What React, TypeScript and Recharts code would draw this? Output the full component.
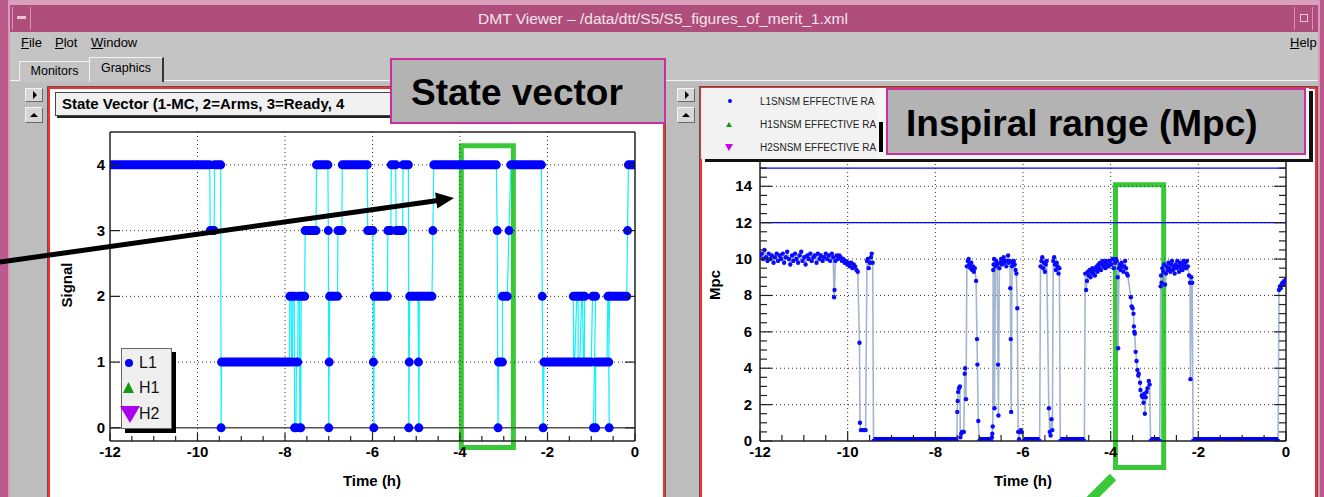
import React from 'react'
import { ComposedChart, Line, XAxis, YAxis, ReferenceLine, ReferenceArea } from 'recharts'

const FONT = '"Liberation Sans", Arial, Helvetica, sans-serif'

// L1 state vector, runs of equal state: [start (h), end (h), state]
const stateRuns: [number, number, number][] = [
  [-12.0, -9.72, 4], [-9.71, -9.62, 3], [-9.61, -9.47, 4], [-9.46, -9.46, 0],
  [-9.45, -7.9, 1], [-7.89, -7.86, 2], [-7.85, -7.83, 1], [-7.82, -7.79, 2],
  [-7.78, -7.75, 0], [-7.74, -7.71, 1], [-7.7, -7.67, 2], [-7.66, -7.64, 0],
  [-7.63, -7.55, 2], [-7.54, -7.29, 3], [-7.28, -7.02, 4], [-7.01, -7.01, 3],
  [-7.0, -7.0, 0], [-6.99, -6.99, 1], [-6.98, -6.8, 2], [-6.79, -6.7, 3],
  [-6.69, -6.12, 4], [-6.11, -5.99, 3], [-5.98, -5.98, 1], [-5.97, -5.97, 0],
  [-5.96, -5.66, 2], [-5.65, -5.58, 3], [-5.57, -5.47, 4], [-5.46, -5.31, 3],
  [-5.3, -5.18, 4], [-5.17, -5.17, 0], [-5.16, -5.16, 1], [-5.15, -4.96, 2],
  [-4.95, -4.95, 1], [-4.94, -4.94, 0], [-4.93, -4.64, 2], [-4.62, -4.62, 3],
  [-4.6, -3.17, 4], [-3.15, -3.15, 3], [-3.13, -3.13, 0], [-3.12, -3.03, 1],
  [-3.03, -2.92, 2], [-2.88, -2.88, 3], [-2.84, -2.14, 4], [-2.12, -2.12, 2],
  [-2.1, -2.1, 0], [-2.08, -1.4, 1], [-1.41, -1.33, 2], [-1.38, -1.3, 1],
  [-1.3, -1.22, 2], [-1.26, -1.18, 1], [-1.2, -1.15, 2], [-1.16, -1.0, 1],
  [-0.97, -0.9, 2], [-0.95, -0.9, 0], [-0.9, -0.64, 1], [-0.62, -0.6, 2],
  [-0.59, -0.59, 0], [-0.6, -0.6, 1], [-0.58, -0.19, 2], [-0.17, -0.17, 3],
  [-0.15, 0.0, 4],
]

// L1 SNSM effective range: [time (h), Mpc]
const rangeL1: [number, number][] = [
  [-12.0, 10.2], [-11.96, 10.3], [-11.93, 10.0], [-11.9, 10.5], [-11.86, 10.1], [-11.83, 9.9],
  [-11.8, 10.3], [-11.76, 10.0], [-11.73, 10.2], [-11.69, 9.8], [-11.66, 10.1], [-11.62, 10.3],
  [-11.59, 9.9], [-11.55, 10.2], [-11.52, 10.0], [-11.48, 10.3], [-11.45, 9.8], [-11.41, 10.1],
  [-11.38, 10.4], [-11.34, 10.0], [-11.31, 9.7], [-11.27, 10.2], [-11.24, 9.9], [-11.2, 10.3],
  [-11.17, 10.0], [-11.13, 9.8], [-11.1, 10.2], [-11.06, 10.4], [-11.03, 9.9], [-10.99, 10.1],
  [-10.96, 9.7], [-10.92, 10.2], [-10.89, 10.0], [-10.85, 10.3], [-10.82, 9.9], [-10.78, 10.1],
  [-10.75, 10.2], [-10.71, 9.8], [-10.68, 10.3], [-10.64, 10.0], [-10.61, 10.2], [-10.57, 9.9],
  [-10.54, 10.1], [-10.5, 10.3], [-10.47, 10.0], [-10.43, 10.2], [-10.4, 9.9], [-10.36, 10.3],
  [-10.33, 10.1], [-10.31, 7.9], [-10.3, 8.3], [-10.28, 9.9], [-10.25, 10.2], [-10.22, 10.0],
  [-10.19, 10.2], [-10.16, 10.1], [-10.13, 9.9], [-10.1, 10.0], [-10.07, 9.8], [-10.04, 9.9],
  [-10.01, 9.7], [-9.98, 9.8], [-9.95, 9.6], [-9.92, 9.8], [-9.89, 9.5], [-9.86, 9.7],
  [-9.83, 9.6], [-9.8, 9.4], [-9.77, 9.3],
  [-9.73, 5.4], [-9.72, 1.0], [-9.7, 0.6], [-9.66, 0.6], [-9.62, 0.6], [-9.59, 0.6],
  [-9.56, 9.9], [-9.54, 10.0], [-9.52, 9.5], [-9.49, 9.8], [-9.47, 10.1], [-9.45, 10.3], [-9.43, 9.8],
  [-9.41, 0], [-7.51, 0],
  [-7.5, 1.6], [-7.49, 2.2], [-7.48, 2.7], [-7.46, 2.9], [-7.44, 3.0], [-7.43, 0.2], [-7.41, 0.4],
  [-7.39, 0.5], [-7.37, 0.5], [-7.35, 0.5], [-7.33, 3.7], [-7.32, 4.0], [-7.3, 2.3],
  [-7.28, 9.6], [-7.26, 9.9], [-7.24, 10.0], [-7.22, 9.7], [-7.2, 9.5], [-7.18, 9.8], [-7.16, 9.4],
  [-7.14, 9.6], [-7.12, 9.3], [-7.1, 9.5], [-7.07, 8.8],
  [-7.05, 5.6], [-7.04, 4.2], [-7.02, 1.1], [-7.0, 0], [-6.72, 0],
  [-6.71, 0.2], [-6.7, 0.4], [-6.69, 0.8], [-6.68, 9.4], [-6.67, 9.7], [-6.66, 10.0], [-6.65, 1.8],
  [-6.63, 9.6], [-6.61, 9.9], [-6.59, 9.7], [-6.57, 4.2], [-6.56, 1.4], [-6.54, 9.5], [-6.52, 9.8],
  [-6.5, 10.0], [-6.48, 9.7], [-6.46, 9.9], [-6.44, 10.1], [-6.42, 9.8], [-6.4, 9.9], [-6.38, 9.6],
  [-6.36, 9.9], [-6.34, 10.2], [-6.32, 9.8], [-6.3, 9.9], [-6.29, 8.4], [-6.28, 5.6], [-6.27, 1.6],
  [-6.25, 9.6], [-6.23, 9.8], [-6.21, 9.9], [-6.19, 9.7], [-6.17, 9.4], [-6.15, 9.2], [-6.13, 7.3],
  [-6.11, 0.5], [-6.09, 0.1], [-6.07, 0.5], [-6.05, 0.6], [-6.03, 0.5],
  [-5.98, 0], [-5.62, 0],
  [-5.6, 9.6], [-5.58, 9.9], [-5.56, 10.1], [-5.54, 9.5], [-5.52, 9.8], [-5.5, 9.3], [-5.48, 9.7],
  [-5.46, 9.9], [-5.41, 1.8], [-5.39, 0.5], [-5.37, 0.3], [-5.35, 1.2], [-5.33, 0.6],
  [-5.31, 9.9], [-5.29, 10.1], [-5.27, 9.7], [-5.25, 9.4], [-5.23, 9.8], [-5.21, 9.6], [-5.19, 9.2],
  [-5.17, 9.5],
  [-5.15, 0], [-4.6, 0],
  [-4.58, 9.2], [-4.56, 8.3], [-4.54, 8.8], [-4.52, 9.3], [-4.5, 9.1], [-4.48, 9.4], [-4.46, 9.0],
  [-4.44, 9.3], [-4.42, 9.5], [-4.4, 9.2], [-4.38, 9.4], [-4.36, 9.1], [-4.34, 9.5], [-4.32, 9.6],
  [-4.3, 9.3], [-4.28, 9.7], [-4.26, 9.5], [-4.24, 9.8], [-4.22, 9.4], [-4.2, 9.7], [-4.18, 9.9],
  [-4.16, 9.6], [-4.14, 9.8], [-4.12, 9.5], [-4.1, 9.9], [-4.08, 9.7], [-4.05, 9.6], [-4.02, 9.9],
  [-3.99, 9.7], [-3.96, 10.0], [-3.93, 9.5], [-3.9, 9.8], [-3.88, 10.0],
  [-3.86, 9.9], [-3.84, 9.0], [-3.83, 5.1], [-3.81, 9.5], [-3.79, 9.7], [-3.77, 9.4], [-3.75, 9.8],
  [-3.73, 9.6], [-3.71, 9.3], [-3.69, 9.6], [-3.67, 9.9], [-3.65, 9.5], [-3.63, 9.2], [-3.61, 9.1],
  [-3.54, 7.9], [-3.52, 7.4], [-3.5, 7.3], [-3.48, 7.0], [-3.47, 6.3], [-3.46, 6.0], [-3.45, 5.9],
  [-3.43, 4.9], [-3.41, 4.4], [-3.39, 3.9], [-3.37, 3.6], [-3.36, 3.7], [-3.33, 3.2], [-3.32, 2.8],
  [-3.29, 2.5], [-3.27, 2.4], [-3.25, 2.1], [-3.23, 2.6], [-3.22, 1.5], [-3.2, 2.4], [-3.18, 2.7],
  [-3.16, 2.9], [-3.13, 3.3], [-3.11, 3.1],
  [-3.09, 0], [-2.88, 0],
  [-2.86, 8.5], [-2.85, 9.1], [-2.84, 8.7], [-2.82, 9.5], [-2.8, 9.3], [-2.78, 9.7], [-2.76, 8.6],
  [-2.74, 9.2], [-2.72, 9.6], [-2.7, 9.4], [-2.68, 9.8], [-2.66, 9.5], [-2.64, 9.3], [-2.62, 9.7],
  [-2.6, 9.9], [-2.58, 9.4], [-2.56, 9.6], [-2.54, 9.2], [-2.52, 9.7], [-2.5, 9.5], [-2.48, 9.9],
  [-2.46, 9.6], [-2.44, 9.3], [-2.42, 9.8], [-2.4, 9.5], [-2.38, 9.7], [-2.36, 9.4], [-2.34, 9.9],
  [-2.32, 9.6], [-2.3, 9.8], [-2.28, 9.5], [-2.26, 9.9], [-2.24, 9.6],
  [-2.21, 9.1], [-2.19, 8.7], [-2.18, 3.4], [-2.16, 9.0], [-2.14, 8.7],
  [-2.12, 0], [-0.18, 0],
  [-0.16, 8.3], [-0.14, 8.5], [-0.12, 8.4], [-0.1, 8.6], [-0.08, 8.7], [-0.06, 8.6], [-0.04, 8.8],
  [-0.02, 8.8], [0.0, 8.9],
]

const timeMajor = [-12, -10, -8, -6, -4, -2, 0]
const timeMinor = [
  -12, -11.5, -11, -10.5, -10, -9.5, -9, -8.5, -8, -7.5, -7, -6.5, -6,
  -5.5, -5, -4.5, -4, -3.5, -3, -2.5, -2, -1.5, -1, -0.5, 0,
]
const stateTicks = [0, 1, 2, 3, 4]
const mpcMajor = [0, 2, 4, 6, 8, 10, 12, 14]
const mpcMinor = [
  0, 0.5, 1, 1.5, 2, 2.5, 3, 3.5, 4, 4.5, 5, 5.5, 6, 6.5, 7, 7.5,
  8, 8.5, 9, 9.5, 10, 10.5, 11, 11.5, 12, 12.5, 13, 13.5, 14, 14.5, 15, 15.5,
]
const mpcLimits = [12, 15]

const stateTrace = stateRuns.flatMap(([a, b, s]) => [{ t: a, s }, { t: b, s }])
const stateBlobs = stateRuns.flatMap(([a, b, s]) => [{ t: a, s }, { t: b, s }, { t: b, s: null }])
const rangeData = rangeL1.map(([t, mpc]) => ({ t, mpc }))
const zeroBand = rangeL1.flatMap(([t, mpc], i) => {
  const next = rangeL1[i + 1]
  return mpc === 0 && next && next[1] === 0
    ? [{ t, mpc: 0 }, { t: next[0], mpc: 0 }, { t: next[0], mpc: null }]
    : []
})

// ROOT style ticks: drawn inside the frame, labels only on majors
function axisTick(side: string, majors: number[], majorLen: number, minorLen: number, labels: boolean, gap = 6) {
  return (props: any) => {
    const { x, y, payload } = props
    const v = payload.value
    const isMajor = majors.includes(v)
    const len = isMajor ? majorLen : minorLen
    let x2 = x
    let y2 = y
    if (side === 'bottom') y2 = y - len
    if (side === 'top') y2 = y + len
    if (side === 'left') x2 = x + len
    if (side === 'right') x2 = x - len
    const txt = { fontFamily: FONT, fontWeight: 700, fontSize: 15, fill: '#000' }
    return (
      <g>
        <line x1={x} y1={y} x2={x2} y2={y2} stroke="#222" strokeWidth={1.2} />
        {labels && isMajor && side === 'bottom' && (
          <text x={x} y={y + 16} textAnchor="middle" {...txt}>{v}</text>
        )}
        {labels && isMajor && side === 'left' && (
          <text x={x - gap} y={y + 5} textAnchor="end" {...txt}>{v}</text>
        )}
      </g>
    )
  }
}

const frameLine = { stroke: '#222', strokeWidth: 1.5 }
const flatX = { height: 1, tickSize: 0, tickMargin: 0, tickLine: false, interval: 0 as const }
const flatY = { width: 1, tickSize: 0, tickMargin: 0, tickLine: false, interval: 0 as const }

function StateChart() {
  return (
    <ComposedChart width={616} height={409} margin={{ top: 43, right: 28, bottom: 55, left: 61 }}>
      <XAxis type="number" dataKey="t" domain={[-12, 0]} ticks={timeMinor} {...flatX} axisLine={frameLine}
        tick={axisTick('bottom', timeMajor, 8, 5, true)} allowDataOverflow />
      <XAxis xAxisId="top" orientation="top" type="number" domain={[-12, 0]} ticks={timeMinor} {...flatX}
        axisLine={frameLine} tick={axisTick('top', timeMajor, 8, 5, false)} allowDataOverflow />
      <YAxis type="number" domain={[-0.2, 4.5]} ticks={stateTicks} {...flatY} axisLine={frameLine}
        tick={axisTick('left', stateTicks, 10, 10, true, 5)} />
      <YAxis yAxisId="right" orientation="right" type="number" domain={[-0.2, 4.5]} ticks={stateTicks}
        {...flatY} axisLine={frameLine} tick={axisTick('right', stateTicks, 10, 10, false)} allowDataOverflow />
      {timeMajor.slice(1, -1).map((v) => (
        <ReferenceLine key={'x' + v} x={v} stroke="#333" strokeDasharray="1 3" />
      ))}
      {stateTicks.slice(1).map((v) => (
        <ReferenceLine key={'y' + v} y={v} stroke="#333" strokeDasharray="1 3" />
      ))}
      <ReferenceLine y={0} stroke="#555" strokeWidth={1.5} />
      <Line data={stateTrace} dataKey="s" type="linear" stroke="#10f0ff" strokeWidth={1.2} dot={false}
        isAnimationActive={false} />
      <Line data={stateBlobs} dataKey="s" type="linear" stroke="#0000ff" strokeWidth={9} strokeLinecap="round"
        dot={false} connectNulls={false} isAnimationActive={false} />
      <ReferenceArea x1={-3.97} x2={-2.78} y1={-0.3} y2={4.29} stroke="#38c838" strokeWidth={5}
        fill="none" fillOpacity={0} ifOverflow="visible" />
    </ComposedChart>
  )
}

function RangeChart() {
  return (
    <ComposedChart width={618} height={409} margin={{ top: 70, right: 31, bottom: 55, left: 59 }}>
      <XAxis type="number" dataKey="t" domain={[-12, 0]} ticks={timeMinor} {...flatX} axisLine={frameLine}
        tick={axisTick('bottom', timeMajor, 10, 6, true)} allowDataOverflow />
      <XAxis xAxisId="top" orientation="top" type="number" domain={[-12, 0]} ticks={timeMinor} {...flatX}
        axisLine={frameLine} tick={axisTick('top', timeMajor, 10, 6, false)} allowDataOverflow />
      <YAxis type="number" domain={[0, 15.5]} ticks={mpcMinor} {...flatY} axisLine={frameLine}
        tick={axisTick('left', mpcMajor, 12, 7, true, 8)} allowDataOverflow />
      <YAxis yAxisId="right" orientation="right" type="number" domain={[0, 15.5]} ticks={mpcMinor} {...flatY}
        axisLine={frameLine} tick={axisTick('right', mpcMajor, 12, 7, false)} allowDataOverflow />
      {timeMajor.slice(1, -1).map((v) => (
        <ReferenceLine key={'x' + v} x={v} stroke="#333" strokeDasharray="1 3" />
      ))}
      {mpcMajor.slice(1).map((v) => (
        <ReferenceLine key={'y' + v} y={v} stroke="#333" strokeDasharray="1 3" />
      ))}
      {mpcLimits.map((v) => (
        <ReferenceLine key={'l' + v} y={v} stroke="#0000ff" strokeWidth={1.3} />
      ))}
      <Line data={rangeData} dataKey="mpc" type="linear" stroke="#a3b6d0" strokeWidth={1.6}
        dot={{ r: 2.2, fill: '#0a0aff', stroke: 'none' }} isAnimationActive={false} />
      <Line data={zeroBand} dataKey="mpc" type="linear" stroke="#0000ff" strokeWidth={8} dot={false}
        connectNulls={false} isAnimationActive={false} />
      <ReferenceArea x1={-3.89} x2={-2.79} y1={-1.46} y2={14.09} stroke="#38c838" strokeWidth={5}
        fill="none" fillOpacity={0} ifOverflow="visible" />
    </ComposedChart>
  )
}

const abs = (l: number, t: number, w: number, h: number, extra: any = {}) => ({
  position: 'absolute' as const, left: l, top: t, width: w, height: h, boxSizing: 'border-box' as const, ...extra,
})

function SmallButton({ l, t, h, dir }: any) {
  const m = (h - 2) / 2
  return (
    <div style={abs(l, t, 18, h, {
      background: '#d6d6d6', borderTop: '1px solid #f4f4f4', borderLeft: '1px solid #f4f4f4',
      borderRight: '1px solid #6a6a6a', borderBottom: '1px solid #6a6a6a',
    })}>
      <svg width={16} height={h - 2} style={{ position: 'absolute', left: 0, top: 0 }}>
        {dir === 'right'
          ? <polygon points={`7,${m - 4} 11,${m} 7,${m + 4}`} fill="#000" />
          : <polygon points={`4,${m + 2} 8,${m - 2} 12,${m + 2}`} fill="#000" />}
      </svg>
    </div>
  )
}

export default function App() {
  const canvas = { background: '#fff', border: '1px solid #555', boxShadow: 'inset 0 0 0 2px #ff2a2a' }
  const annot = {
    background: '#b3b3b3', border: '2px solid #c8309c', fontFamily: FONT, fontWeight: 700,
    fontSize: 37, color: '#000', whiteSpace: 'nowrap' as const,
  }
  return (
    <div style={abs(0, 0, 1324, 497, { overflow: 'hidden', background: '#bdbdbd', fontFamily: FONT })}>
      {/* window decoration */}
      <div style={abs(0, 0, 1324, 6, { background: '#d9a0bc' })} />
      <div style={abs(0, 0, 10, 497, { background: '#bb5b8b', borderRight: '2px solid #d89ab8' })} />
      <div style={abs(1318, 0, 6, 497, { background: '#bb5b8b', borderLeft: '2px solid #d89ab8' })} />
      <div style={abs(10, 5, 1308, 27, { background: '#b04e7b' })} />
      <div style={abs(12, 7, 19, 23, { borderRight: '1px solid #d590b4', borderLeft: '1px solid #d590b4' })}>
        <div style={abs(4, 9, 9, 3, { background: '#e6c4d6' })} />
      </div>
      <div style={abs(1294, 7, 19, 23, { borderLeft: '1px solid #d590b4', borderRight: '1px solid #d590b4' })}>
        <div style={abs(5, 7, 8, 8, { border: '1px solid #e6c4d6' })} />
      </div>
      <div style={abs(10, 5, 1306, 27, {
        textAlign: 'center', lineHeight: '27px', color: '#f3e4ec', fontSize: 15.5,
      })}>
        DMT Viewer – /data/dtt/S5/S5_figures_of_merit_1.xml
      </div>

      {/* menu bar */}
      <div style={abs(10, 32, 1308, 22, { background: '#c4c4c4', fontSize: 13, lineHeight: '22px' })}>
        <span style={{ position: 'absolute', left: 11 }}><u>F</u>ile</span>
        <span style={{ position: 'absolute', left: 45 }}><u>P</u>lot</span>
        <span style={{ position: 'absolute', left: 81 }}><u>W</u>indow</span>
        <span style={{ position: 'absolute', left: 1280 }}><u>H</u>elp</span>
      </div>

      {/* tabs */}
      <div style={abs(10, 54, 1308, 28, { background: '#c4c4c4' })} />
      <div style={abs(10, 80, 1308, 1, { background: '#f2f2f2' })} />
      <div style={abs(19, 61, 70, 20, {
        background: '#c4c4c4', borderTop: '1px solid #f2f2f2', borderLeft: '1px solid #f2f2f2',
        fontSize: 12.5, textAlign: 'center', lineHeight: '19px',
      })}>Monitors</div>
      <div style={abs(89, 57, 75, 25, {
        background: '#c4c4c4', borderTop: '1px solid #f2f2f2', borderLeft: '1px solid #f2f2f2',
        borderRight: '2px solid #333', fontSize: 12.5, textAlign: 'center', lineHeight: '21px',
      })}>Graphics</div>

      <SmallButton l={25} t={88} h={14} dir="right" />
      <SmallButton l={25} t={107} h={16} dir="up" />
      <SmallButton l={677} t={88} h={14} dir="right" />
      <SmallButton l={677} t={107} h={16} dir="up" />

      {/* canvases */}
      <div style={abs(47, 86, 619, 420, canvas)} />
      <div style={abs(699, 86, 619, 420, canvas)} />

      <div style={abs(48, 88, 616, 409)}>
        <StateChart />
      </div>
      <div style={abs(700, 88, 618, 409)}>
        <RangeChart />
      </div>

      {/* axis titles */}
      <div style={abs(322, 472, 100, 20, { fontWeight: 700, fontSize: 15, textAlign: 'center' })}>Time (h)</div>
      <div style={abs(973, 472, 100, 20, { fontWeight: 700, fontSize: 15, textAlign: 'center' })}>Time (h)</div>
      <div style={abs(18, 275, 100, 20, {
        fontWeight: 700, fontSize: 15, textAlign: 'center', transform: 'rotate(-90deg)',
      })}>Signal</div>
      <div style={abs(666, 275, 100, 20, {
        fontWeight: 700, fontSize: 15, textAlign: 'center', transform: 'rotate(-90deg)',
      })}>Mpc</div>

      {/* left pad title */}
      <div style={abs(55, 92, 360, 24, {
        background: '#f0f0f0', border: '1px solid #444', boxShadow: '2px 2px 0 #222',
        fontWeight: 700, fontSize: 15, lineHeight: '22px', paddingLeft: 6, whiteSpace: 'nowrap', overflow: 'hidden',
      })}>State Vector (1-MC, 2=Arms, 3=Ready, 4</div>

      {/* left legend */}
      <div style={abs(121, 348, 51, 81, {
        background: '#efefef', border: '1px solid #666', boxShadow: '4px 4px 0 #000', overflow: 'visible',
      })}>
        <svg width={52} height={82} style={{ position: 'absolute', left: -1, top: -1, overflow: 'visible' }}>
          <circle cx={8} cy={15} r={4} fill="#0000ff" />
          <text x={18} y={20} fontFamily={FONT} fontSize={16} fill="#111">L1</text>
          <polygon points="2,45 7.5,34 13,45" fill="#119911" />
          <text x={18} y={45} fontFamily={FONT} fontSize={16} fill="#111">H1</text>
          <polygon points="-1,58 19,58 9,75" fill="#aa00ee" />
          <text x={18} y={71} fontFamily={FONT} fontSize={16} fill="#111">H2</text>
        </svg>
      </div>

      {/* right legend */}
      <div style={abs(701, 88, 177, 71, { background: '#f2f2f2', boxShadow: '4px 3px 0 #111' })}>
        <svg width={177} height={71} style={{ position: 'absolute', left: 0, top: 0 }}>
          <circle cx={29} cy={13} r={2} fill="#0000ff" />
          <polygon points="25,39 28,34 31,39" fill="#119911" />
          <polygon points="24,56 32,56 28,63" fill="#cc00ee" />
          <text x={59} y={17} fontFamily={FONT} fontSize={10} fill="#222">L1SNSM EFFECTIVE RA</text>
          <text x={59} y={40} fontFamily={FONT} fontSize={10} fill="#222">H1SNSM EFFECTIVE RA</text>
          <text x={59} y={63} fontFamily={FONT} fontSize={10} fill="#222">H2SNSM EFFECTIVE RA</text>
        </svg>
      </div>
      <div style={abs(877, 88, 432, 71, { background: '#f5f5f5', boxShadow: '4px 3px 0 #111' })}>
        <div style={abs(2, 34, 4, 30, { background: '#000' })} />
      </div>

      {/* annotation boxes */}
      <div style={abs(390, 58, 276, 66, { ...annot, paddingLeft: 19, lineHeight: '66px' })}>State vector</div>
      <div style={abs(886, 88, 420, 67, { ...annot, paddingLeft: 18, lineHeight: '68px' })}>Inspiral range (Mpc)</div>

      {/* pointer arrow and callout stroke */}
      <svg width={1324} height={497} style={{ position: 'absolute', left: 0, top: 0, pointerEvents: 'none' }}>
        <line x1={0} y1={262} x2={438} y2={200.5} stroke="#000" strokeWidth={5} />
        <polygon points="454,198 437.3,208.4 435.1,192.6" fill="#000" />
        <line x1={1113} y1={477} x2={1090} y2={500} stroke="#38c838" strokeWidth={9} />
      </svg>
    </div>
  )
}
